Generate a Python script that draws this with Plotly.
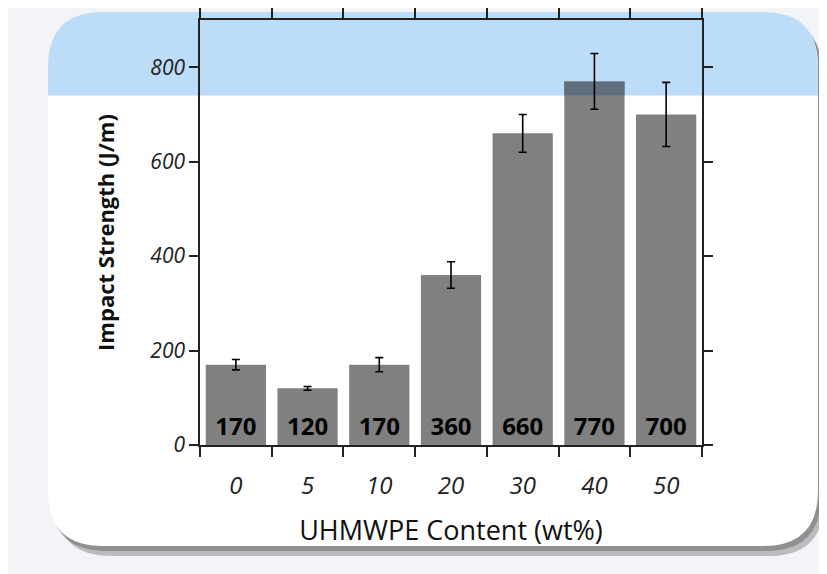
import plotly.graph_objects as go

categories = ["0", "5", "10", "20", "30", "40", "50"]
impact = [170, 120, 170, 360, 660, 770, 700]
errors = [11, 4, 15, 28, 40, 59, 68]
bar_labels = ["170", "120", "170", "360", "660", "770", "700"]
y_ticks = [0, 200, 400, 600, 800]
y_max = 900
band_start = 740

# layout geometry (pixels, in page coordinates; page body has an 8px margin)
OFF = 8
FW, FH = 827 - OFF, 574 - OFF
PL, PR, PT, PB = 200, 702, 20, 445          # plot area edges on the page
L, R, T, B = PL - OFF, FW - (PR - OFF), PT - OFF, FH - (PB - OFF)
PW, PH = PR - PL, PB - PT


def px(x):
    return (x - PL) / PW


def py(y):
    return (PB - y) / PH


def rounded_rect(x0, y0, x1, y1, r):
    rx, ry = r / PW, r / PH
    X0, X1 = px(x0), px(x1)
    Yt, Yb = py(y0), py(y1)
    return (f"M {X0 + rx},{Yt} L {X1 - rx},{Yt} Q {X1},{Yt} {X1},{Yt - ry} "
            f"L {X1},{Yb + ry} Q {X1},{Yb} {X1 - rx},{Yb} L {X0 + rx},{Yb} "
            f"Q {X0},{Yb} {X0},{Yb + ry} L {X0},{Yt - ry} Q {X0},{Yt} {X0 + rx},{Yt} Z")


band_paper = band_start / y_max
card = (48, 12, 818, 546)
rad = 55
Xc0, Yc0, Xc1 = px(card[0]), py(card[1]), px(card[2])
rx, ry = rad / PW, rad / PH
band_path = (f"M {Xc0},{band_paper} L {Xc0},{Yc0 - ry} Q {Xc0},{Yc0} {Xc0 + rx},{Yc0} "
             f"L {Xc1 - rx},{Yc0} Q {Xc1},{Yc0} {Xc1},{Yc0 - ry} "
             f"L {Xc1},{band_paper} Z")

shapes = [
    dict(type="path", xref="paper", yref="paper", layer="below",
         path=rounded_rect(card[0] + 8, card[1] + 10, card[2] + 6, card[3] + 10, rad),
         fillcolor="rgba(60,60,60,0.30)", line=dict(width=0)),
    dict(type="path", xref="paper", yref="paper", layer="below",
         path=rounded_rect(card[0] + 3, card[1] + 4, card[2] + 3, card[3] + 5, rad),
         fillcolor="rgba(90,90,90,0.45)", line=dict(width=0)),
    dict(type="path", xref="paper", yref="paper", layer="below",
         path=rounded_rect(*card, rad), fillcolor="white", line=dict(width=0)),
    dict(type="path", xref="paper", yref="paper", layer="below",
         path=band_path, fillcolor="#bddcf7", line=dict(width=0)),
]

over_band = [max(v - band_start, 0) for v in impact]

fig = go.Figure()
fig.add_trace(go.Bar(
    x=categories, y=impact, marker=dict(color="#808080", line=dict(width=0)),
    text=bar_labels, textposition="inside", insidetextanchor="start",
    textfont=dict(family="Open Sans", size=24, color="black", weight="bold"),
    constraintext="none", hoverinfo="skip", showlegend=False,
))
fig.add_trace(go.Bar(
    x=categories, y=over_band, base=band_start,
    marker=dict(color="#5f6f7e", line=dict(width=0)),
    hoverinfo="skip", showlegend=False,
))
fig.add_trace(go.Scatter(
    x=categories, y=impact, mode="markers",
    marker=dict(size=1, color="rgba(0,0,0,0)"),
    error_y=dict(type="data", array=errors, color="black", thickness=1.6, width=4),
    hoverinfo="skip", showlegend=False,
))

fig.update_layout(
    width=FW, height=FH,
    margin=dict(l=L, r=R, t=T, b=B, autoexpand=False),
    paper_bgcolor="#f2f4f7", plot_bgcolor="rgba(0,0,0,0)",
    barmode="overlay", bargap=0.16,
    shapes=shapes,
    font=dict(family="Open Sans", color="#222"),
    xaxis=dict(
        type="category", tickson="boundaries", ticks="outside", ticklen=10,
        tickwidth=1.5, tickcolor="#222", showline=True, linecolor="#222",
        linewidth=1.5, mirror="ticks", showgrid=False, ticklabelstandoff=18,
        automargin=False,
        tickfont=dict(size=24, style="italic", color="#222"),
        title=dict(text="UHMWPE Content (wt%)", standoff=22,
                   font=dict(size=27, color="#111")),
    ),
    yaxis=dict(
        range=[0, y_max], tickvals=y_ticks, ticks="outside", ticklen=9,
        tickwidth=1.5, tickcolor="#222", showline=True, linecolor="#222",
        linewidth=1.5, mirror="ticks", showgrid=False, zeroline=False,
        automargin=False,
        tickfont=dict(size=21, style="italic", color="#222"),
        title=dict(text="Impact Strength (J/m)", standoff=30,
                   font=dict(size=22, color="#111", weight="bold")),
    ),
)

fig.write_html("out.html")
